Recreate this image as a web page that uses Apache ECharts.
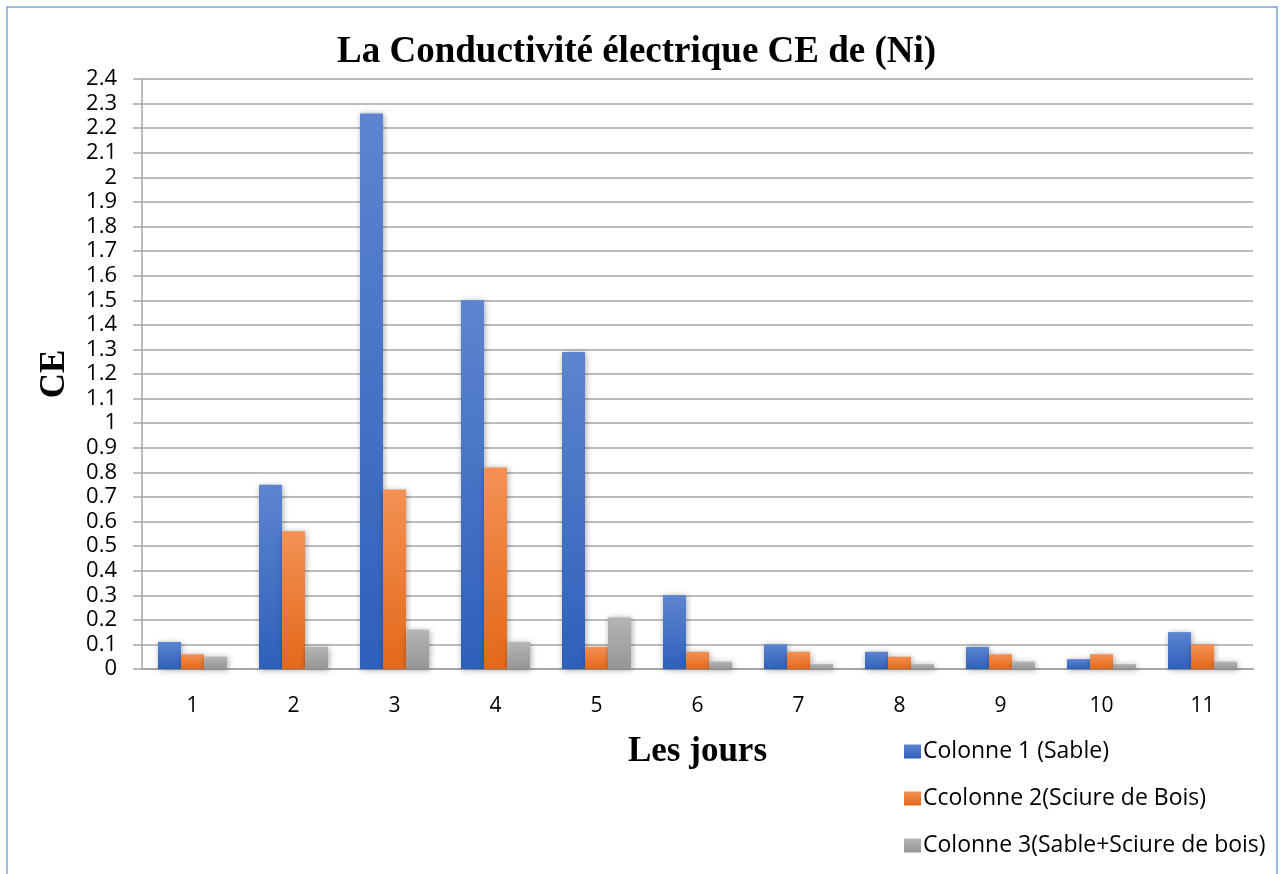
<!DOCTYPE html>
<html>
<head>
<meta charset="utf-8">
<title>La Conductivité électrique CE de (Ni)</title>
<script src="https://cdn.jsdelivr.net/npm/echarts@6/dist/echarts.min.js"></script>
<style>
  html, body { margin: 0; padding: 0; background: #fff; }
  #main { width: 1288px; height: 874px; }
</style>
</head>
<body>
<div id="main"></div>
<script>
// jours et valeurs
var jours = ['1', '2', '3', '4', '5', '6', '7', '8', '9', '10', '11'];
var sable = [0.11, 0.75, 2.26, 1.50, 1.29, 0.30, 0.10, 0.07, 0.09, 0.04, 0.15];
var sciure = [0.06, 0.56, 0.73, 0.82, 0.09, 0.07, 0.07, 0.05, 0.06, 0.06, 0.10];
var sableSciure = [0.05, 0.09, 0.16, 0.11, 0.21, 0.03, 0.02, 0.02, 0.03, 0.02, 0.03];
var noms = ['Colonne 1 (Sable)', 'Ccolonne 2(Sciure de Bois)', 'Colonne 3(Sable+Sciure de bois)'];

function degrade(haut, bas) {
    return new echarts.graphic.LinearGradient(0, 0, 0, 1, [
        {offset: 0, color: haut},
        {offset: 1, color: bas}
    ]);
}

function serie(nom, data, haut, bas) {
    return {
        name: nom,
        type: 'bar',
        data: data,
        barWidth: 23,
        barGap: '0%',
        itemStyle: {
            color: degrade(haut, bas),
            shadowColor: 'rgba(0,0,0,0.35)',
            shadowBlur: 6,
            shadowOffsetX: 1,
            shadowOffsetY: 1
        }
    };
}

var myChart = echarts.init(document.getElementById('main'));

var option = {
    backgroundColor: '#fff',
    animation: false,
    graphic: [{
        type: 'rect',
        shape: {x: 7, y: 7, width: 1270, height: 900},
        style: {fill: 'none', stroke: '#7ea2df', lineWidth: 1.5},
        silent: true
    }],
    title: {
        text: 'La Conductivité électrique CE de (Ni)',
        left: 332,
        top: 29,
        textStyle: {
            fontFamily: 'Liberation Serif',
            fontWeight: 'bold',
            fontSize: 37,
            color: '#000'
        }
    },
    legend: {
        orient: 'vertical',
        left: 899,
        top: 735,
        itemWidth: 17,
        itemHeight: 14,
        itemGap: 24,
        icon: 'rect',
        data: noms,
        textStyle: {
            fontFamily: 'Open Sans',
            fontSize: 23,
            color: '#000',
            padding: [0, 0, 0, -3]
        }
    },
    grid: {
        left: 142,
        right: 35,
        top: 79,
        bottom: 205
    },
    xAxis: {
        type: 'category',
        data: jours,
        name: 'Les jours',
        nameLocation: 'middle',
        nameGap: 65,
        nameTextStyle: {
            fontFamily: 'Liberation Serif',
            fontWeight: 'bold',
            fontSize: 35,
            color: '#000'
        },
        axisLine: {lineStyle: {color: '#a6a6a6', width: 2}},
        axisTick: {show: false},
        axisLabel: {
            fontFamily: 'Open Sans',
            fontSize: 21,
            color: '#000',
            margin: 27
        }
    },
    yAxis: {
        type: 'value',
        min: 0,
        max: 2.4,
        interval: 0.1,
        name: 'CE',
        nameLocation: 'middle',
        nameGap: 70,
        nameRotate: 90,
        nameTextStyle: {
            fontFamily: 'Liberation Serif',
            fontWeight: 'bold',
            fontSize: 35,
            color: '#000'
        },
        axisLine: {show: true, lineStyle: {color: '#a6a6a6', width: 1.5}},
        axisTick: {show: true, length: 9, lineStyle: {color: '#a6a6a6', width: 1.5}},
        splitLine: {lineStyle: {color: '#a6a6a6', width: 1.5}},
        axisLabel: {
            fontFamily: 'Open Sans',
            fontSize: 22,
            color: '#000',
            margin: 25,
            formatter: function (v) {
                return String(Math.round(v * 10) / 10);
            }
        }
    },
    series: [
        serie(noms[0], sable, '#5d85cf', '#2e60bb'),
        serie(noms[1], sciure, '#f39154', '#e4681a'),
        serie(noms[2], sableSciure, '#b5b5b5', '#959595')
    ]
};

myChart.setOption(option);
</script>
</body>
</html>
